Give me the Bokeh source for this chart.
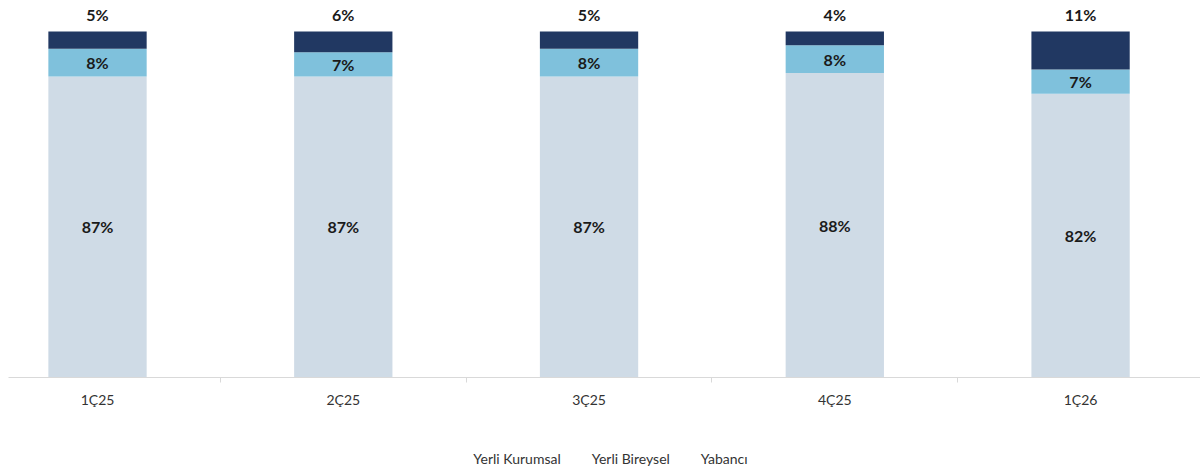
from bokeh.plotting import figure
from bokeh.layouts import column
from bokeh.models import ColumnDataSource, Range1d, FixedTicker, Legend, LegendItem
from bokeh.core.properties import value
from bokeh.embed import file_html
from bokeh.resources import INLINE

categories = ["1Ç25", "2Ç25", "3Ç25", "4Ç25", "1Ç26"]
yerli_kurumsal = [87, 87, 87, 88, 82]
yerli_bireysel = [8, 7, 8, 8, 7]
yabanci = [5, 6, 5, 4, 11]
series_names = ["Yerli Kurumsal", "Yerli Bireysel", "Yabancı"]
colors = ["#cfdbe6", "#7fc1dc", "#213862"]

FONT = "Lato"
xs = [i + 0.5 for i in range(len(categories))]

src = ColumnDataSource(dict(
    x=xs, yk=yerli_kurumsal, yb=yerli_bireysel, ya=yabanci,
))

p = figure(width=1200, height=443, output_backend="svg", toolbar_location=None,
           x_range=Range1d(0.1378, 4.988), y_range=Range1d(0, 106.65),
           min_border_left=8, min_border_right=0, min_border_top=8, min_border_bottom=66)
p.outline_line_color = None
p.xgrid.visible = False
p.ygrid.visible = False
p.yaxis.visible = False

r = p.vbar_stack(["yk", "yb", "ya"], x="x", width=0.4, source=src, color=colors, line_color=None)

lab = ColumnDataSource(dict(
    x=xs * 3,
    y=[v / 2 for v in yerli_kurumsal]
      + [a + b / 2 for a, b in zip(yerli_kurumsal, yerli_bireysel)]
      + [a + b + c for a, b, c in zip(yerli_kurumsal, yerli_bireysel, yabanci)],
    t=[f"{v}%" for v in yerli_kurumsal] + [f"{v}%" for v in yerli_bireysel] + [f"{v}%" for v in yabanci],
    off=[0] * 10 + [-17] * 5,
))
p.text(x="x", y="y", text="t", source=lab, y_offset="off", text_align="center", text_baseline="middle",
       text_font=value(FONT), text_font_style="bold", text_font_size="16px", text_color="#1a1a1a")

ax = p.xaxis[0]
ax.ticker = FixedTicker(ticks=xs, minor_ticks=[1, 2, 3, 4])
ax.major_label_overrides = {x: c for x, c in zip(xs, categories)}
ax.axis_line_color = "#d9d9d9"
ax.axis_line_width = 1
ax.major_tick_line_color = None
ax.major_tick_out = 0
ax.major_tick_in = 0
ax.minor_tick_line_color = "#d9d9d9"
ax.minor_tick_out = 5
ax.minor_tick_in = 0
ax.major_label_standoff = 8
ax.major_label_text_font = FONT
ax.major_label_text_font_size = "14px"
ax.major_label_text_color = "#333333"

# legend strip underneath
p2 = figure(width=1200, height=30, output_backend="svg", toolbar_location=None,
            x_range=Range1d(0, 1), y_range=Range1d(0, 1),
            x_axis_location=None, y_axis_location=None,
            min_border_left=8, min_border_right=0, min_border_top=0, min_border_bottom=0)
p2.outline_line_color = None
p2.xgrid.visible = False
p2.ygrid.visible = False
leg_r = [p2.vbar(x=[], top=[], width=0.4, fill_color=c, line_color=None) for c in colors]

legend = Legend(items=[LegendItem(label=n, renderers=[rr]) for n, rr in zip(series_names, leg_r)],
                orientation="horizontal", location="center")
legend.glyph_width = 10
legend.glyph_height = 10
legend.label_standoff = 3
legend.spacing = 18
legend.padding = 0
legend.margin = 0
legend.border_line_color = None
legend.background_fill_alpha = 0
legend.label_text_font = FONT
legend.label_text_font_size = "14px"
legend.label_text_color = "#333333"
p2.add_layout(legend, "center")

layout = column(p, p2, spacing=0)
open("out.html", "w").write(file_html(layout, INLINE))
